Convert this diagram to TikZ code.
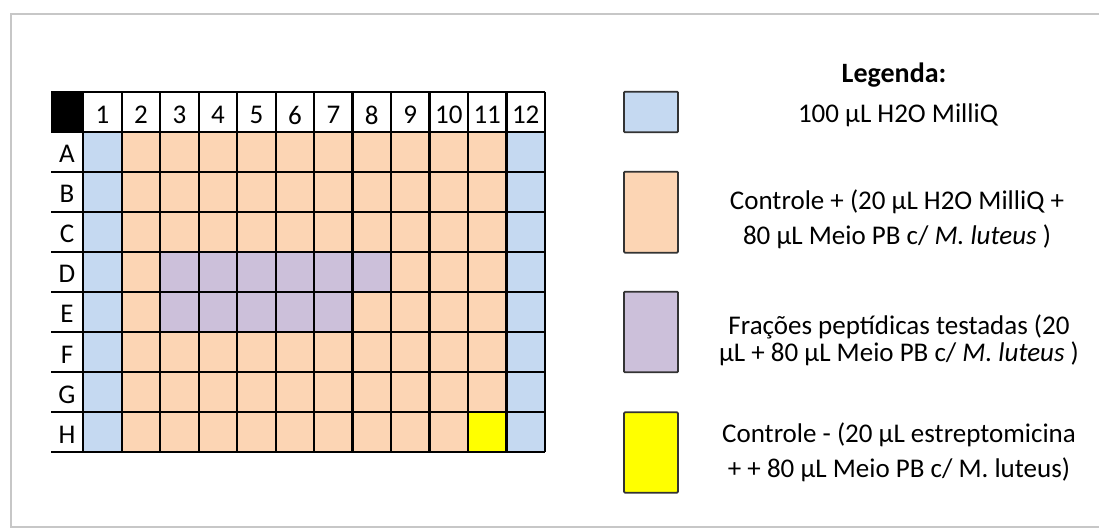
\documentclass[tikz,border=0pt]{standalone}
\usepackage{fontspec}
\setmainfont{Carlito}
\usetikzlibrary{positioning,calc}
\definecolor{wellblue}{RGB}{197,217,241}
\definecolor{wellorange}{RGB}{252,213,180}
\definecolor{wellpurple}{RGB}{204,192,218}
\definecolor{wellyellow}{RGB}{255,255,0}
\begin{document}
\begin{tikzpicture}[x=1pt,y=-1pt,
    cell/.style={inner sep=0pt,font=\fontsize{27}{30}\selectfont},
    legtext/.style={inner sep=0pt,align=center},
    legbox/.style={draw=black!80,line width=1.8pt,rounded corners=1pt,inner sep=0pt,minimum width=54pt}]
  \useasboundingbox (0,0) rectangle (1099,528);
  \draw[black!22,line width=1.8pt] (1099,14) -- (11,14) -- (11,527) -- (1099,527);
  % plate
  \def\wx{38.47}\def\hy{40.07}
  \fill[wellorange] (83.3,132) rectangle (545,452.3);
  \fill[wellblue] (83.3,132) rectangle ++(\wx,8*\hy);
  \fill[wellblue] (545,132) rectangle ++(-\wx,8*\hy);
  \fill[wellpurple] ({83.3+2*\wx},{132+3*\hy}) rectangle ++(6*\wx,\hy);
  \fill[wellpurple] ({83.3+2*\wx},{132+4*\hy}) rectangle ++(5*\wx,\hy);
  \fill[wellyellow] ({83.3+10*\wx},{132+7*\hy}) rectangle ++(\wx,\hy);
  \fill (51,91.7) rectangle (83.3,132);
  \foreach \i in {0,...,9}
    \draw[line width=2.2pt] (51,{91.7+\i*\hy}) -- (545,{91.7+\i*\hy});
  \foreach \i in {0,...,12}
    \draw[line width=2.2pt] ({83.3+\i*\wx},91.7) -- ({83.3+\i*\wx},452.3);
  \foreach \c in {1,...,12}
    \node[cell] (c\c) at ({83.3+(\c-0.5)*\wx},115) {\c};
  \foreach \r [count=\i] in {A,...,H}
    \node[cell] (r\r) at (67,{134+(\i-0.5)*\hy}) {\r};
  % legend
  \node[legbox,fill=wellblue,minimum height=40.6pt] (kblue) at (651,112) {};
  \node[legbox,fill=wellorange,minimum height=81pt] (korange) at (651,212.2) {};
  \node[legbox,fill=wellpurple,minimum height=80.6pt] (kpurple) at (651,332) {};
  \node[legbox,fill=wellyellow,minimum height=80.4pt] (kyellow) at (651,452.5) {};
  \node[legtext,font=\bfseries\fontsize{28}{32}\selectfont] (title) at (894,75) {Legenda:};
  \node[legtext,font=\fontsize{27}{35}\selectfont] (tblue) at (898,115) {100 µL H2O MilliQ};
  \node[legtext,font=\fontsize{27}{35}\selectfont] (torange) at (897,219)
    {Controle + (20 µL H2O MilliQ +\\80 µL Meio PB c/ \textit{M. luteus} )};
  \node[legtext,font=\fontsize{27}{26.7}\selectfont] (tpurple) at (899,340)
    {Frações peptídicas testadas (20\\µL + 80 µL Meio PB c/ \textit{M. luteus} )};
  \node[legtext,font=\fontsize{27}{35}\selectfont] (tyellow) at (899,452.5)
    {Controle - (20 µL estreptomicina\\+ + 80 µL Meio PB c/ M. luteus)};
\end{tikzpicture}
\end{document}
